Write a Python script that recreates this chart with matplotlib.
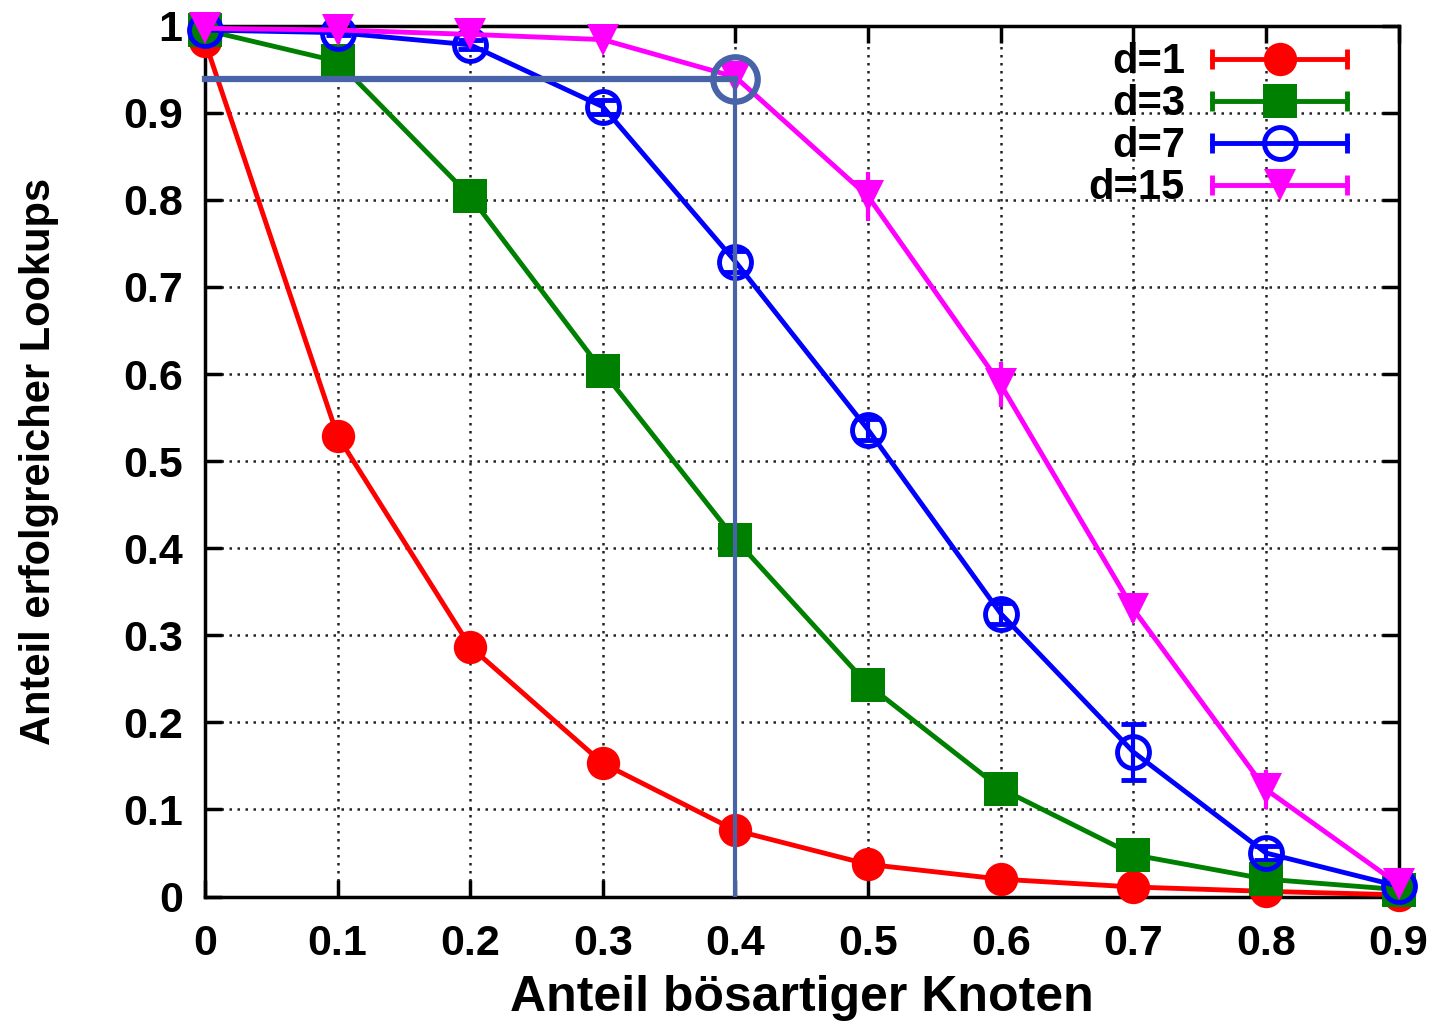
import matplotlib
matplotlib.use("Agg")
import matplotlib.pyplot as plt
from matplotlib.lines import Line2D
from matplotlib.legend_handler import HandlerLine2D, HandlerTuple

# Anteil bösartiger Knoten
x = [0, 0.1, 0.2, 0.3, 0.4, 0.5, 0.6, 0.7, 0.8, 0.9]

d1 = [0.982, 0.529, 0.287, 0.153, 0.076, 0.037, 0.020, 0.011, 0.006, 0.002]
d3 = [0.995, 0.959, 0.804, 0.603, 0.410, 0.243, 0.124, 0.048, 0.020, 0.008]
d7 = [0.995, 0.992, 0.978, 0.907, 0.729, 0.536, 0.325, 0.166, 0.050, 0.012]
d15 = [0.997, 0.995, 0.990, 0.984, 0.941, 0.804, 0.588, 0.330, 0.123, 0.014]

e1 = [0.003, 0.01, 0.005, 0.005, 0.003, 0.002, 0.001, 0.001, 0.001, 0.001]
e3 = [0.002, 0.005, 0.008, 0.018, 0.008, 0.006, 0.004, 0.003, 0.002, 0.001]
e7 = [0.002, 0.003, 0.005, 0.008, 0.012, 0.012, 0.012, 0.032, 0.008, 0.002]
e15 = [0.001, 0.002, 0.003, 0.003, 0.005, 0.028, 0.026, 0.015, 0.022, 0.003]

labels = ["d=1", "d=3", "d=7", "d=15"]

# highlighted point
mark_x = 0.4
mark_y = 0.939

plt.rcParams["font.family"] = ["Liberation Sans", "DejaVu Sans"]
plt.rcParams["font.weight"] = "bold"

fig, ax = plt.subplots(figsize=(14.33, 10.27), dpi=100)
fig.subplots_adjust(left=0.143, right=0.976, top=0.975, bottom=0.127)

styles = [
    dict(color="#ff0000", marker="o", ms=24, mfc="#ff0000", mew=0),
    dict(color="#008000", marker="s", ms=24, mfc="#008000", mew=0),
    dict(color="#0000ff", marker="o", ms=23, mfc="none", mew=3.5),
    dict(color="#ff00ff", marker="v", ms=23, mfc="#ff00ff", mew=0),
]

handles = []
hmap = {tuple: HandlerTuple(ndivide=1, pad=0)}
for ys, es, lab, st in zip([d1, d3, d7, d15], [e1, e3, e7, e15], labels, styles):
    cont = ax.errorbar(x, ys, yerr=es, lw=3.5, elinewidth=3,
                       capsize=9, capthick=3, zorder=3, **st)
    for art in [cont[0], *cont[1], *cont[2]]:
        art.set_clip_on(False)
    main = Line2D([], [], lw=3.5, **st)
    caps = Line2D([], [], ls="none", marker="|", ms=14, mew=3.5, color=st["color"])
    hmap[main] = HandlerLine2D(numpoints=1)
    hmap[caps] = HandlerLine2D(numpoints=2, marker_pad=0)
    handles.append((caps, main))

# annotation lines and circle
ann = "#4863a8"
ax.plot([0, mark_x], [mark_y, mark_y], color=ann, lw=4.5, zorder=4, clip_on=False)
ax.plot([mark_x, mark_x], [mark_y, 0], color=ann, lw=3, zorder=4)
ax.plot([mark_x], [mark_y], marker="o", ms=32, mfc="none", mec=ann, mew=4.5,
        zorder=5, clip_on=False)

ax.set_xlim(0, 0.9)
ax.set_ylim(0, 1)
ax.set_xticks(x)
ax.set_xticklabels(["0", "0.1", "0.2", "0.3", "0.4", "0.5", "0.6", "0.7", "0.8", "0.9"])
ax.set_yticks([0, 0.1, 0.2, 0.3, 0.4, 0.5, 0.6, 0.7, 0.8, 0.9, 1])
ax.set_yticklabels(["0", "0.1", "0.2", "0.3", "0.4", "0.5", "0.6", "0.7", "0.8", "0.9", "1"])
ax.tick_params(direction="in", length=12, width=2.5, labelsize=31,
               top=True, right=True)
ax.tick_params(axis="x", pad=20)
ax.tick_params(axis="y", pad=16)
for sp in ax.spines.values():
    sp.set_linewidth(2.5)

ax.grid(True, color="#222222", linestyle=(0, (1, 2.2)), linewidth=1.8)
ax.set_axisbelow(True)

ax.set_xlabel("Anteil bösartiger Knoten", fontsize=36, fontweight="bold", labelpad=8)
ax.set_ylabel("Anteil erfolgreicher Lookups", fontsize=30, fontweight="bold", labelpad=46)

leg = ax.legend(handles, labels, handler_map=hmap, loc="upper right",
                bbox_to_anchor=(0.957, 0.981), frameon=False, markerfirst=False,
                fontsize=30, handlelength=3.25, labelspacing=0.05, borderpad=0,
                borderaxespad=0, handletextpad=0.65)

fig.savefig("out.png", dpi=100)
